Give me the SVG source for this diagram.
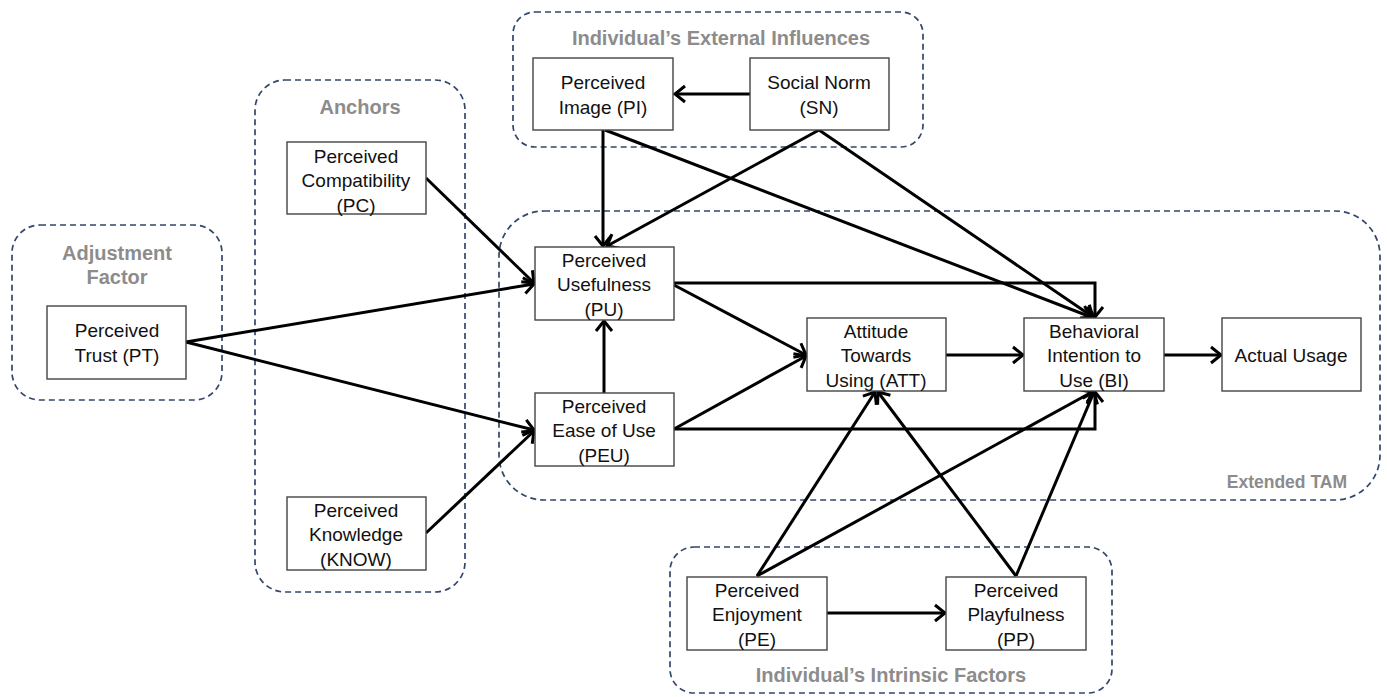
<svg xmlns="http://www.w3.org/2000/svg" width="1387" height="697" viewBox="0 0 1387 697">
<style>
.grp{fill:none;stroke:#33466b;stroke-width:1.7;stroke-dasharray:6,4}
.gl{font-family:"Liberation Sans",Arial,sans-serif;font-weight:bold;font-size:20px;fill:#8c8c8c;text-anchor:middle}
.box{fill:#fff;stroke:#444;stroke-width:1.4}
.t{font-family:"Liberation Sans",Arial,sans-serif;font-size:19px;fill:#111;text-anchor:middle}
.c{fill:none;stroke:#000;stroke-width:3}
</style>
<defs>
<marker id="ah" markerUnits="userSpaceOnUse" markerWidth="16" markerHeight="20" viewBox="0 0 16 20" refX="12" refY="10" orient="auto">
<path d="M2,2 L12,10 L2,18" fill="none" stroke="#000" stroke-width="3"/>
</marker>
</defs>
<rect width="1387" height="697" fill="#fff"/>
<g id="groups">
<rect class="grp" x="513" y="12" width="410" height="135" rx="22"/>
<rect class="grp" x="12" y="225" width="210" height="175" rx="28"/>
<rect class="grp" x="255" y="80" width="210" height="512" rx="30"/>
<rect class="grp" x="499" y="211" width="881" height="289" rx="45"/>
<rect class="grp" x="670" y="547" width="442" height="146" rx="24"/>
<text class="gl" x="721" y="45">Individual’s External Influences</text>
<text class="gl" x="360" y="114">Anchors</text>
<text class="gl" x="117" y="260">Adjustment</text>
<text class="gl" x="117" y="284">Factor</text>
<text class="gl" x="1347" y="488" style="text-anchor:end;font-size:17.5px">Extended TAM</text>
<text class="gl" x="891" y="682">Individual’s Intrinsic Factors</text>
</g>
<g id="connectors">
<line class="c" x1="750" y1="94" x2="675" y2="94" marker-end="url(#ah)"/>
<line class="c" x1="603" y1="130" x2="603" y2="246" marker-end="url(#ah)"/>
<line class="c" x1="819" y1="130" x2="607" y2="246" marker-end="url(#ah)"/>
<line class="c" x1="605" y1="130" x2="1091" y2="317" marker-end="url(#ah)"/>
<line class="c" x1="819" y1="130" x2="1093" y2="317" marker-end="url(#ah)"/>
<line class="c" x1="426" y1="178" x2="534" y2="283" marker-end="url(#ah)"/>
<line class="c" x1="186" y1="342" x2="534" y2="284" marker-end="url(#ah)"/>
<line class="c" x1="186" y1="342" x2="534" y2="430" marker-end="url(#ah)"/>
<line class="c" x1="426" y1="533" x2="534" y2="431" marker-end="url(#ah)"/>
<line class="c" x1="604" y1="393" x2="604" y2="321" marker-end="url(#ah)"/>
<line class="c" x1="674" y1="285" x2="806" y2="355" marker-end="url(#ah)"/>
<line class="c" x1="674" y1="429" x2="806" y2="356" marker-end="url(#ah)"/>
<polyline class="c" points="674,283 1095,283 1095,317" marker-end="url(#ah)"/>
<polyline class="c" points="674,429 1095,429 1095,392" marker-end="url(#ah)"/>
<line class="c" x1="946" y1="355" x2="1023" y2="355" marker-end="url(#ah)"/>
<line class="c" x1="1164" y1="355" x2="1221" y2="355" marker-end="url(#ah)"/>
<line class="c" x1="757" y1="576" x2="875" y2="392" marker-end="url(#ah)"/>
<line class="c" x1="757" y1="576" x2="1092" y2="392" marker-end="url(#ah)"/>
<line class="c" x1="1016" y1="576" x2="878" y2="392" marker-end="url(#ah)"/>
<line class="c" x1="1016" y1="576" x2="1094" y2="392" marker-end="url(#ah)"/>
<line class="c" x1="827" y1="613" x2="945" y2="613" marker-end="url(#ah)"/>
</g>
<g id="PI"><rect class="box" x="533" y="58" width="140" height="72"/><text class="t" x="603" y="89">Perceived</text><text class="t" x="603" y="114">Image (PI)</text></g>
<g id="SN"><rect class="box" x="750" y="58" width="139" height="72"/><text class="t" x="819" y="89">Social Norm</text><text class="t" x="819" y="114">(SN)</text></g>
<g id="PC"><rect class="box" x="287" y="142" width="139" height="72"/><text class="t" x="356" y="163">Perceived</text><text class="t" x="356" y="187">Compatibility</text><text class="t" x="356" y="212">(PC)</text></g>
<g id="PT"><rect class="box" x="47" y="306" width="139" height="73"/><text class="t" x="117" y="337">Perceived</text><text class="t" x="117" y="362">Trust (PT)</text></g>
<g id="PU"><rect class="box" x="535" y="247" width="139" height="73"/><text class="t" x="604" y="267">Perceived</text><text class="t" x="604" y="291">Usefulness</text><text class="t" x="604" y="316">(PU)</text></g>
<g id="PEU"><rect class="box" x="535" y="393" width="139" height="73"/><text class="t" x="604" y="413">Perceived</text><text class="t" x="604" y="437">Ease of Use</text><text class="t" x="604" y="462">(PEU)</text></g>
<g id="ATT"><rect class="box" x="807" y="318" width="139" height="73"/><text class="t" x="876" y="338">Attitude</text><text class="t" x="876" y="362">Towards</text><text class="t" x="876" y="387">Using (ATT)</text></g>
<g id="BI"><rect class="box" x="1024" y="318" width="140" height="73"/><text class="t" x="1094" y="338">Behavioral</text><text class="t" x="1094" y="362">Intention to</text><text class="t" x="1094" y="387">Use (BI)</text></g>
<g id="AU"><rect class="box" x="1222" y="318" width="139" height="73"/><text class="t" x="1291" y="362">Actual Usage</text></g>
<g id="KNOW"><rect class="box" x="287" y="497" width="139" height="73"/><text class="t" x="356" y="517">Perceived</text><text class="t" x="356" y="541">Knowledge</text><text class="t" x="356" y="566">(KNOW)</text></g>
<g id="PE"><rect class="box" x="687" y="577" width="140" height="73"/><text class="t" x="757" y="597">Perceived</text><text class="t" x="757" y="621">Enjoyment</text><text class="t" x="757" y="646">(PE)</text></g>
<g id="PP"><rect class="box" x="946" y="577" width="140" height="73"/><text class="t" x="1016" y="597">Perceived</text><text class="t" x="1016" y="621">Playfulness</text><text class="t" x="1016" y="646">(PP)</text></g>
</svg>
